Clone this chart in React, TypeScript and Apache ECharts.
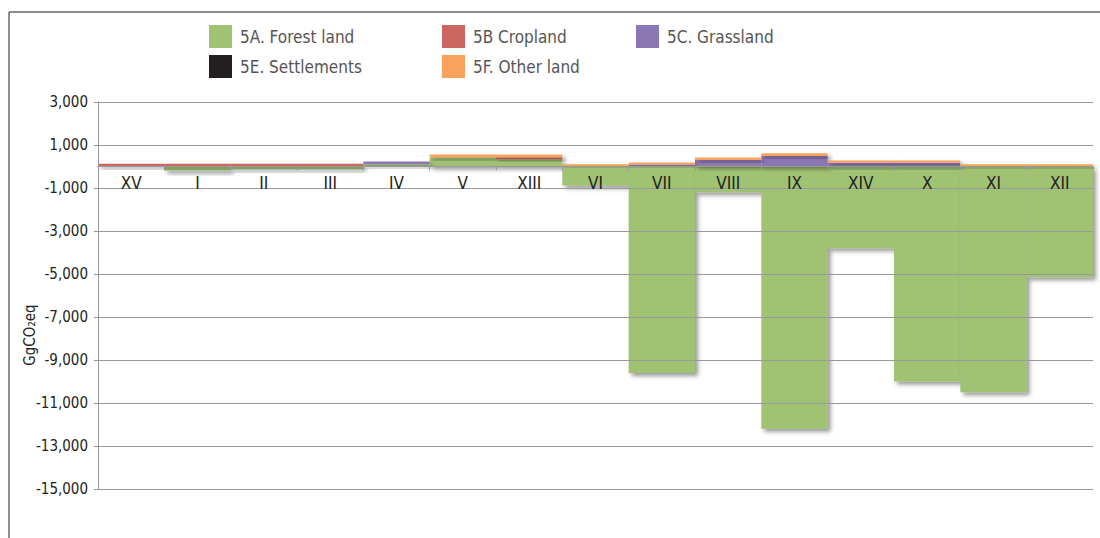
import React, { useEffect, useRef } from "react";
import * as echarts from "echarts";

const categories = ["XV", "I", "II", "III", "IV", "V", "XIII", "VI", "VII", "VIII", "IX", "XIV", "X", "XI", "XII"];
const forestLand = [-20, -200, -130, -130, 100, 430, 340, -880, -9600, -1200, -12200, -3800, -10000, -10500, -5150];
const cropland = [130, 130, 130, 130, 10, 0, 90, 20, 20, 50, 20, 20, 20, 10, 10];
const grassland = [0, 0, 0, 0, 120, 0, 0, 0, 70, 250, 470, 150, 150, 0, 0];
const settlements = [0, 0, 0, 0, 0, 0, 0, 0, 0, 0, 0, 0, 0, 0, 0];
const otherLand = [0, 0, 0, 0, 0, 130, 130, 80, 100, 120, 130, 110, 110, 100, 100];

const seriesNames = ["5A. Forest land", "5B Cropland", "5C. Grassland", "5E. Settlements", "5F. Other land"];
const seriesColors = ["#9FC273", "#CC6660", "#8B77B4", "#231F20", "#F9A25E"];
const seriesData = [forestLand, cropland, grassland, settlements, otherLand];

const yMin = -15000;
const yMax = 3000;
const yStep = 2000;

const FONT = "'DejaVu Sans Condensed', 'Liberation Sans Narrow', 'Noto Sans', sans-serif";

const GRID_TOP = 102;
const GRID_BOTTOM = 49;
const HEIGHT = 538;

export default function App() {
  const ref = useRef<HTMLDivElement>(null);
  useEffect(() => {
    if (!ref.current) return;
    const chart = echarts.init(ref.current, null, { renderer: "svg" });
    const legendPos = [
      { left: 209, top: 25 },
      { left: 442, top: 25 },
      { left: 636, top: 25 },
      { left: 209, top: 55 },
      { left: 442, top: 55 },
    ];
    const plotH = HEIGHT - GRID_TOP - GRID_BOTTOM;
    const zeroY = GRID_TOP + (yMax / (yMax - yMin)) * plotH;
    const xOffset = -(HEIGHT - GRID_BOTTOM - zeroY);
    chart.setOption({
      animation: false,
      textStyle: { fontFamily: FONT },
      legend: seriesNames.map((n, i) => ({
        data: [n],
        left: legendPos[i].left,
        top: legendPos[i].top,
        padding: 0,
        itemWidth: 23,
        itemHeight: 23,
        itemGap: 0,
        icon: "rect",
        textStyle: { fontFamily: FONT, fontSize: 17, color: "#555", padding: [0, 0, 0, 3] },
        selectedMode: false,
      })),
      grid: { left: 98, right: 7, top: GRID_TOP, bottom: GRID_BOTTOM, containLabel: false },
      xAxis: {
        type: "category",
        data: categories,
        z: 5,
        offset: xOffset,
        axisLine: { onZero: false, lineStyle: { color: "#999", width: 1 } },
        axisTick: { show: true, alignWithLabel: false, length: 4, lineStyle: { color: "#999" } },
        axisLabel: { color: "#231F20", fontSize: 17, fontFamily: FONT, margin: 8 },
      },
      yAxis: {
        type: "value",
        min: yMin,
        max: yMax,
        interval: yStep,
        z: 5,
        axisLine: { show: true, onZero: false, lineStyle: { color: "#999" } },
        axisTick: { show: true, length: 4, lineStyle: { color: "#999" } },
        axisLabel: {
          color: "#231F20",
          fontSize: 15,
          fontFamily: FONT,
          margin: 10,
          formatter: (v: number) => (v < 0 ? "-" : "") + Math.abs(v).toLocaleString("en-US"),
        },
        splitLine: { show: true, lineStyle: { color: "#999", width: 1 } },
      },
      series: seriesNames.map((n, i) => ({
        name: n,
        type: "bar",
        stack: "total",
        data: seriesData[i],
        barCategoryGap: "0%",
        itemStyle: {
          color: seriesColors[i],
          shadowBlur: 4,
          shadowOffsetX: 3,
          shadowOffsetY: 3,
          shadowColor: "rgba(0,0,0,0.4)",
        },
      })),
      graphic: [
        { type: "line", shape: { x1: 9, y1: 12, x2: 1100, y2: 12 }, style: { stroke: "#666", lineWidth: 1.5 } },
        { type: "line", shape: { x1: 9, y1: 12, x2: 9, y2: 538 }, style: { stroke: "#444", lineWidth: 1.2 } },
        {
          type: "text",
          x: 30,
          y: 335,
          rotation: Math.PI / 2,
          style: {
            text: "GgCO\u2082eq",
            fontFamily: FONT,
            fontSize: 15,
            fill: "#231F20",
            align: "center",
            verticalAlign: "middle",
          },
        },
      ],
    });
    return () => chart.dispose();
  }, []);
  return <div ref={ref} style={{ width: 1100, height: 538, position: "absolute", left: 0, top: 0 }} />;
}
